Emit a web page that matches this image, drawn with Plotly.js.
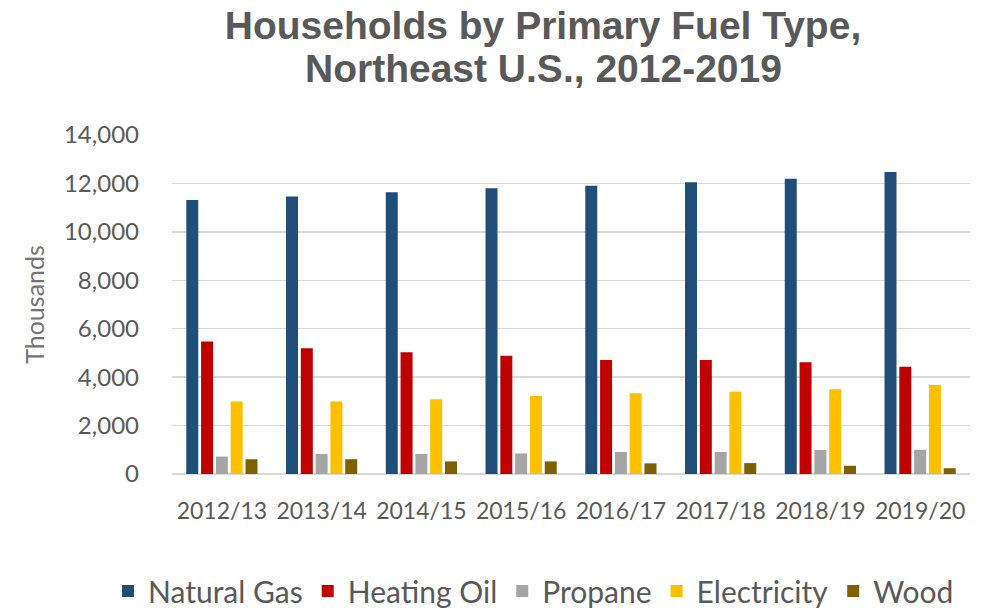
<!DOCTYPE html>
<html>
<head>
<meta charset="utf-8">
<script src="https://cdn.plot.ly/plotly-3.0.1.min.js"></script>
<style>
  html, body { margin: 0; padding: 0; background: #ffffff; }
  #chart { width: 984px; height: 608px; }
</style>
</head>
<body>
<div id="chart"></div>
<script>
// Heating seasons (x categories)
const seasons = ["2012/13", "2013/14", "2014/15", "2015/16", "2016/17", "2017/18", "2018/19", "2019/20"];

// Households by primary fuel type, thousands
const naturalGas  = [11320, 11460, 11640, 11800, 11900, 12050, 12190, 12470];
const heatingOil  = [5470, 5190, 5030, 4880, 4710, 4710, 4610, 4430];
const propane     = [720, 830, 830, 850, 910, 910, 990, 1000];
const electricity = [2990, 2990, 3090, 3220, 3330, 3400, 3500, 3680];
const wood        = [610, 610, 520, 520, 440, 450, 340, 240];

const seriesNames  = ["Natural Gas", "Heating Oil", "Propane", "Electricity", "Wood"];
const seriesValues = [naturalGas, heatingOil, propane, electricity, wood];
const seriesColors = ["#1f4e79", "#c00000", "#a5a5a5", "#ffc000", "#7f6000"];

const traces = seriesNames.map((name, i) => ({
  type: "bar",
  name: name,
  x: seasons,
  y: seriesValues[i],
  marker: { color: seriesColors[i] },
  hoverinfo: "x+y+name"
}));

const tickFont = { family: "Lato, sans-serif", size: 23, color: "#595959" };

// plot area: x 172..970, y 135..474
const plotLeft = 172, plotWidth = 798, plotBottom = 474, plotHeight = 339;

const layout = {
  width: 984,
  height: 608,
  paper_bgcolor: "#ffffff",
  plot_bgcolor: "#ffffff",
  margin: { l: 172, r: 14, t: 135, b: 134, autoexpand: false },
  barmode: "group",
  bargap: 0.258,
  bargroupgap: 0.19,
  title: {
    text: "Households by Primary Fuel Type,",
    font: { family: "Liberation Sans, Arial, sans-serif", size: 39, color: "#595959", weight: "bold" },
    xref: "container", yref: "container",
    x: 543 / 984, xanchor: "center",
    y: 1 - 25 / 608, yanchor: "middle"
  },
  annotations: [{
    text: "Northeast U.S., 2012-2019",
    font: { family: "Liberation Sans, Arial, sans-serif", size: 39, color: "#595959", weight: "bold" },
    xref: "paper", yref: "paper",
    x: (543 - plotLeft) / plotWidth, xanchor: "center",
    y: (plotBottom - 69) / plotHeight, yanchor: "middle",
    showarrow: false
  }],
  xaxis: {
    type: "category",
    tickfont: tickFont,
    ticks: "",
    ticklabelstandoff: 21,
    showgrid: false,
    showline: false,
    zeroline: false,
    fixedrange: true
  },
  yaxis: {
    range: [0, 14000],
    dtick: 2000,
    tick0: 0,
    tickformat: ",d",
    tickfont: { family: "Lato, sans-serif", size: 24, color: "#595959" },
    ticks: "",
    ticklabelstandoff: 32,
    showgrid: true,
    gridcolor: "#d9d9d9",
    gridwidth: 1.5,
    zeroline: true,
    zerolinecolor: "#d9d9d9",
    zerolinewidth: 1.5,
    showline: false,
    title: {
      text: "Thousands",
      font: { family: "Lato, sans-serif", size: 25, color: "#737373" },
      standoff: 12
    },
    fixedrange: true
  },
  showlegend: true,
  legend: {
    orientation: "h",
    xref: "paper", yref: "paper",
    x: (108 - plotLeft) / plotWidth, xanchor: "left",
    y: (plotBottom - 591) / plotHeight, yanchor: "middle",
    font: { family: "Lato, sans-serif", size: 30, color: "#595959" },
    itemclick: false,
    itemdoubleclick: false,
    traceorder: "normal"
  }
};

Plotly.newPlot("chart", traces, layout, { displayModeBar: false, staticPlot: true });
</script>
</body>
</html>
